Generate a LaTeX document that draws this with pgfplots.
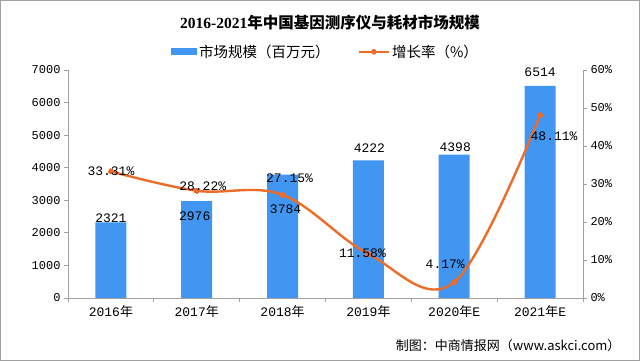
\documentclass[border=0pt]{standalone}
\usepackage{fontspec}
\setmainfont{Liberation Serif}
\setmonofont{Liberation Mono}
\newfontfamily\cjk{Noto Sans CJK SC}
\usepackage{pgfplots}
\usepackage{pgfplotstable}
\pgfplotsset{compat=1.18}
\definecolor{barblue}{RGB}{64,150,240}
\definecolor{lineor}{RGB}{236,108,42}
\definecolor{axgray}{RGB}{160,160,160}

\pgfplotstableread{
x y dx dy lab
0 2321 0 4 2321
1 2976 -2 -15 2976
2 3784 3 -34 3784
3 4222 1 12 4222
4 4398 1 8 4398
5 6514 0 14 6514
}\bars

\pgfplotstableread{
x y dx dy lab
0 33.31 0 0 33.31\%
1 28.22 6 5 28.22\%
2 27.15 7 17 27.15\%
3 11.58 -6 1 11.58\%
4 4.17 -9 18 4.17\%
5 48.11 14 -21 48.11\%
}\growth

\begin{document}
\begin{tikzpicture}
\useasboundingbox (0,0) rectangle (640pt,361pt);
\draw[axgray,line width=0.8pt] (0.4pt,0.4pt) rectangle (639.6pt,360.6pt);

\begin{axis}[
  at={(68pt,63pt)}, anchor=south west,
  scale only axis, width=515pt, height=228pt,
  xmin=-0.5, xmax=5.5, ymin=0, ymax=7000,
  axis x line*=bottom, axis y line*=left,
  axis line style={draw=axgray, line width=0.8pt},
  tick align=outside,
  major tick length=4pt,
  tick style={draw=axgray, line width=0.8pt},
  xtick={-0.5,0.5,...,5.5}, xticklabels={},
  extra x ticks={0,1,2,3,4,5},
  extra x tick labels={{\ttfamily 2016}{\cjk 年},{\ttfamily 2017}{\cjk 年},{\ttfamily 2018}{\cjk 年},{\ttfamily 2019}{\cjk 年},{\ttfamily 2020}{\cjk 年}{\ttfamily E},{\ttfamily 2021}{\cjk 年}{\ttfamily E}},
  extra x tick style={major tick length=0pt, tick style={draw=none}},
  xticklabel style={font=\fontsize{13}{15}\selectfont, yshift=-4pt},
  ytick={0,1000,...,7000},
  yticklabels={0,1000,2000,3000,4000,5000,6000,7000},
  yticklabel style={font=\fontsize{12}{14}\selectfont\ttfamily},
  clip=false,
  legend style={at={(0.5,1.08)}, anchor=center, draw=none, fill=none,
    legend columns=2, font=\fontsize{14.5}{16}\selectfont\cjk,
    /tikz/every even column/.append style={column sep=26pt}},
]
\addplot[ybar, bar width=31pt, fill=barblue, draw=none,
  legend image code/.code={\fill[barblue] (0pt,-3.5pt) rectangle (26pt,3.5pt);},
  point meta=explicit symbolic,
  visualization depends on={\thisrow{dx} \as \dx},
  visualization depends on={\thisrow{dy} \as \dy},
  nodes near coords,
  nodes near coords style={anchor=center, xshift=\dx pt, yshift=\dy pt, font=\fontsize{13}{15}\selectfont\ttfamily, text=black},
] table[x=x, y=y, meta=lab] {\bars};
\addlegendentry{市场规模（百万元）}
\addlegendimage{legend image code/.code={\draw[lineor,line width=2.4pt] (0pt,0pt) -- (30pt,0pt); \fill[lineor] (15pt,0pt) circle (2.5pt);}}
\addlegendentry{增长率（\%）}
\end{axis}

\begin{axis}[
  at={(68pt,63pt)}, anchor=south west,
  scale only axis, width=515pt, height=228pt,
  xmin=-0.5, xmax=5.5, ymin=0, ymax=60,
  axis x line=none, axis y line*=right,
  axis line style={draw=axgray, line width=0.8pt},
  tick align=outside,
  major tick length=4pt,
  tick style={draw=axgray, line width=0.8pt},
  ytick={0,10,...,60},
  yticklabels={0\%,10\%,20\%,30\%,40\%,50\%,60\%},
  yticklabel style={font=\fontsize{12}{14}\selectfont\ttfamily},
  clip=false,
]
\addplot[lineor, line width=2.4pt, smooth, tension=0.6, mark=*, mark size=2.5pt,
  mark options={fill=lineor, draw=lineor, line width=0pt},
  point meta=explicit symbolic,
  visualization depends on={\thisrow{dx} \as \dx},
  visualization depends on={\thisrow{dy} \as \dy},
  nodes near coords,
  nodes near coords style={anchor=center, xshift=\dx pt, yshift=\dy pt, font=\fontsize{13}{15}\selectfont\ttfamily, text=black},
] table[x=x, y=y, meta=lab] {\growth};
\end{axis}

\node[font=\fontsize{15.5}{18}\selectfont\bfseries] at (330pt,338pt) {2016-2021{\cjk 年中国基因测序仪与耗材市场规模}};
\node[font=\fontsize{13}{15}\selectfont\cjk, anchor=east] at (624pt,15pt) {制图：中商情报网（www.askci.com）};
\end{tikzpicture}
\end{document}
